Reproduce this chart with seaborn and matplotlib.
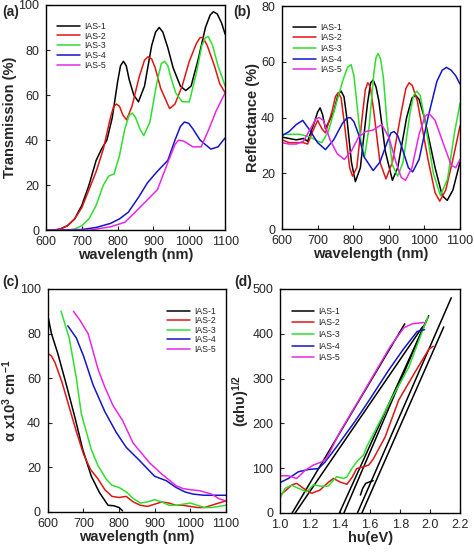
import matplotlib
matplotlib.use("Agg")
import matplotlib.pyplot as plt
import seaborn as sns

# ---------------- data ----------------
samples = ['IAS-1', 'IAS-2', 'IAS-3', 'IAS-4', 'IAS-5']
colors = ['#000000', '#e01515', '#2ee02e', '#1414c8', '#e628e6']

# (a) transmission
trans_wl1 = [600, 620, 640, 660, 680, 700, 720, 740, 755, 770, 785, 800, 808, 816, 824, 832, 845, 858, 875, 895, 906, 916, 926, 940, 955, 975, 990, 1005, 1025, 1045, 1058, 1067, 1078, 1090, 1100]
trans_ias1 = [0, 0, 0.5, 2, 5, 11, 20, 31, 36, 40, 50, 66, 73, 75, 73, 67, 60, 57, 64, 82, 88, 90, 88, 81, 72, 64, 62, 64, 76, 90, 95.5, 97, 96, 92, 87]
trans_wl2 = [600, 620, 640, 660, 680, 700, 720, 740, 760, 780, 789, 797, 805, 815, 825, 840, 860, 875, 885, 895, 905, 920, 945, 960, 980, 1000, 1020, 1030, 1038, 1050, 1070, 1085, 1100]
trans_ias2 = [0, 0, 0.5, 2, 5, 10, 18, 26, 36, 50, 55, 56, 55, 51, 49, 55, 68, 75.5, 77, 76, 72, 63, 54, 56, 64, 75, 83, 85.5, 85.5, 82, 73, 65, 61]
trans_wl3 = [600, 660, 680, 700, 720, 740, 760, 775, 790, 805, 820, 832, 841, 850, 862, 873, 890, 910, 922, 931, 940, 950, 962, 980, 1000, 1020, 1035, 1045, 1053, 1065, 1080, 1100]
trans_ias3 = [0, 0, 0.5, 2, 5, 11, 20, 24, 25, 33, 45, 51, 52, 50, 45, 42, 48, 66, 74, 75, 73, 67, 61, 57, 57, 70, 82, 85.5, 86, 82, 73, 64]
trans_wl4 = [600, 700, 740, 780, 805, 830, 860, 883, 910, 940, 960, 975, 986, 998, 1010, 1030, 1060, 1080, 1100]
trans_ias4 = [0, 0.3, 1.2, 3, 5, 8, 15, 21, 26, 31, 40, 46, 48, 47.5, 45, 40, 36, 37, 41]
trans_wl5 = [600, 720, 780, 820, 845, 880, 911, 940, 960, 970, 985, 1010, 1033, 1055, 1075, 1100]
trans_ias5 = [0, 0, 1.5, 3.5, 7.4, 13, 18, 30, 38, 40, 39.5, 37, 37, 45, 53, 61]

# (b) reflectance
refl_wl1 = [600, 620, 640, 660, 672, 690, 700, 707, 714, 722, 745, 758, 766, 774, 782, 795, 806, 820, 840, 849, 856, 864, 872, 890, 910, 925, 950, 965, 975, 985, 1000, 1030, 1050, 1064, 1080, 1100]
refl_ias1 = [33, 32.5, 32, 32.5, 31.5, 38, 42, 43.5, 41, 36, 42, 48.5, 49.5, 47.5, 40, 24, 17, 22, 45, 52.5, 53.5, 51, 46, 28, 17.5, 22, 40, 47, 48, 46.5, 40, 22, 12, 10.3, 14, 24]
refl_wl2 = [600, 620, 640, 660, 672, 686, 700, 712, 722, 740, 750, 758, 766, 775, 790, 798, 810, 825, 834, 841, 848, 858, 875, 892, 910, 935, 948, 957, 966, 980, 1010, 1030, 1043, 1060, 1080, 1100]
refl_ias2 = [32, 31, 31, 31, 30.5, 35, 39, 36, 34.5, 42, 47.5, 49, 47, 38, 22, 19, 22, 40, 50, 52.5, 51, 42, 24, 18, 24, 42, 50.5, 52.5, 51.5, 46, 25, 13, 10, 14, 25, 37]
refl_wl3 = [600, 650, 680, 700, 712, 730, 750, 770, 784, 794, 802, 812, 822, 832, 845, 858, 864, 870, 877, 885, 895, 910, 925, 940, 960, 970, 978, 988, 1000, 1025, 1045, 1065, 1085, 1100]
refl_ias3 = [34, 34, 33, 31.5, 31, 35, 44, 53, 58, 59, 55, 43, 31, 26, 37, 56, 61.5, 63, 61, 54, 38, 23, 19, 24, 42, 48, 49.5, 48, 40, 20, 12, 18, 35, 45]
refl_wl4 = [600, 620, 640, 658, 675, 700, 722, 745, 770, 782, 792, 802, 815, 830, 856, 875, 895, 906, 915, 925, 935, 955, 967, 985, 1010, 1035, 1050, 1062, 1075, 1088, 1100]
refl_ias4 = [33.5, 35, 37.5, 39, 36, 31, 28.5, 32, 38, 39.8, 40, 38.5, 34, 26, 21, 24, 31, 34.5, 35, 33.5, 30, 22, 20.5, 25, 40, 53, 57, 58, 57, 55, 52]
refl_wl5 = [600, 620, 640, 660, 680, 695, 704, 716, 735, 755, 775, 795, 815, 835, 855, 880, 900, 920, 935, 947, 965, 985, 1002, 1013, 1030, 1055, 1075, 1088, 1100]
refl_ias5 = [31, 30.5, 30.5, 31.5, 36, 39.5, 40, 39, 32, 27, 25, 28, 33, 35, 35.5, 37.5, 33, 24, 18.5, 17.5, 22, 34, 40.5, 41.5, 39, 30, 23, 22, 25]

# (c) absorption coefficient
abs_wl1 = [600, 610, 628, 652, 675, 698, 722, 745, 769, 785, 800, 810]
abs_ias1 = [88, 80, 71, 57, 43, 28, 16, 8.7, 3, 2.8, 2, 0.5]
abs_wl2 = [600, 610, 620, 640, 660, 680, 700, 720, 740, 760, 780, 800, 820, 840, 860, 880, 900, 920, 940, 960, 980, 1000, 1020, 1040, 1060, 1080, 1100]
abs_ias2 = [71, 70, 67, 58, 47, 36, 26, 19, 15, 10, 7, 6.5, 7, 4.5, 3, 2.5, 3.5, 4.5, 4, 3, 3, 2.5, 2, 2, 3, 4, 5]
abs_wl3 = [637, 660, 680, 694, 722, 740, 764, 780, 800, 820, 840, 860, 880, 900, 920, 940, 960, 980, 1000, 1020, 1040, 1060, 1080, 1100]
abs_ias3 = [90, 78, 60, 44, 28, 21, 14.7, 12, 11, 9, 6, 4, 4.5, 5.5, 4.5, 3, 3, 3.5, 4, 3, 2, 2, 2.5, 3]
abs_wl4 = [656, 680, 700, 727, 760, 792, 820, 858, 900, 933, 960, 985, 1008, 1040, 1070, 1100]
abs_ias4 = [83.5, 78, 70, 57, 45, 35.7, 29, 23, 16, 14, 11, 9, 8, 7.5, 7.5, 7.5]
abs_wl5 = [672, 690, 713, 741, 760, 783, 810, 839, 865, 886, 920, 961, 980, 1000, 1027, 1060, 1080, 1100]
abs_ias5 = [90, 86, 80, 64, 56, 47.7, 41, 31, 26, 22, 17, 11.7, 10.5, 10, 9.5, 8, 6, 5]

# (d) Tauc plot
tauc_e2 = [1.0, 1.04, 1.08, 1.11, 1.155, 1.21, 1.265, 1.32, 1.355, 1.40, 1.445, 1.48, 1.51, 1.555, 1.59, 1.62, 1.70, 1.79, 1.90, 1.99, 2.02]
tauc_ias2 = [40, 51, 63, 66, 55, 44, 51, 68, 77, 69, 64, 80, 99, 103, 107, 120, 170, 252, 315, 365, 372]
tauc_e3 = [1.0, 1.033, 1.077, 1.122, 1.177, 1.222, 1.266, 1.32, 1.377, 1.422, 1.444, 1.477, 1.52, 1.555, 1.577, 1.65, 1.75, 1.857, 1.93, 1.985]
tauc_ias3 = [33, 55, 62, 55, 47, 63, 60, 60, 81, 77, 80, 99, 118, 129, 148, 195, 260, 325, 390, 438]
tauc_e4 = [1.0, 1.055, 1.122, 1.189, 1.255, 1.30, 1.377, 1.5, 1.6, 1.722, 1.82, 1.913, 1.962]
tauc_ias4 = [68, 77, 92, 97, 99, 114, 148, 205, 255, 318, 365, 405, 409]
tauc_e5 = [1.0, 1.055, 1.11, 1.166, 1.222, 1.277, 1.31, 1.4, 1.5, 1.6, 1.735, 1.824, 1.88, 1.957]
tauc_ias5 = [83, 83, 77, 95, 107, 114, 122, 182, 238, 295, 372, 413, 422, 425]
tauc_hook_e = [1.535, 1.55, 1.57, 1.60, 1.62]
tauc_hook = [40, 55, 66, 70, 72]
fit_e = [[1.08, 1.83], [1.10, 1.95], [1.395, 1.99], [1.425, 1.975], [1.515, 2.14], [1.545, 2.09]]
fit_val = [[0, 422], [0, 416], [0, 440], [0, 430], [0, 480], [0, 415]]

# ---------------- style ----------------
sns.set_style('ticks')
plt.rcParams['font.family'] = ['Liberation Sans', 'DejaVu Sans']
plt.rcParams['mathtext.fontset'] = 'custom'
plt.rcParams['mathtext.rm'] = 'Liberation Sans'
plt.rcParams['mathtext.bf'] = 'Liberation Sans:bold'
plt.rcParams['mathtext.default'] = 'bf'

fig = plt.figure(figsize=(4.74, 5.52), dpi=100)
ax_a = fig.add_axes([0.097, 0.583, 0.378, 0.408])
ax_b = fig.add_axes([0.595, 0.585, 0.3755, 0.404])
ax_c = fig.add_axes([0.101, 0.0725, 0.3755, 0.404])
ax_d = fig.add_axes([0.591, 0.0707, 0.38, 0.406])

LW = 1.1


def draw(ax, xs, ys, c, lab):
    sns.lineplot(x=xs, y=ys, color=c, label=lab, ax=ax, estimator=None,
                 sort=False, lw=LW)


def finish(ax, xlim, ylim, xt, yt, xlab, ylab):
    ax.set_xlim(*xlim)
    ax.set_ylim(*ylim)
    ax.set_xticks(xt)
    ax.set_yticks(yt)
    ax.tick_params(direction='in', length=3, width=0.8, labelsize=9)
    ax.tick_params(axis='x', pad=4.5)
    ax.tick_params(axis='y', pad=5)
    for s in ax.spines.values():
        s.set_linewidth(1.0)
        s.set_color('black')
    ax.set_xlabel(xlab, fontsize=10.5, fontweight='bold', labelpad=0)
    ax.set_ylabel(ylab, fontsize=10.5, fontweight='bold', labelpad=1)


def leg(ax, loc, anchor, spacing):
    ax.legend(loc=loc, bbox_to_anchor=anchor, frameon=False, fontsize=6.3,
              handlelength=2.6, labelspacing=spacing, handletextpad=0.5)


# (a)
for xs, ys, c, lab in zip([trans_wl1, trans_wl2, trans_wl3, trans_wl4, trans_wl5],
                          [trans_ias1, trans_ias2, trans_ias3, trans_ias4, trans_ias5],
                          colors, samples):
    draw(ax_a, xs, ys, c, lab)
finish(ax_a, (600, 1100), (0, 100), range(600, 1101, 100), range(0, 101, 20),
       'wavelength (nm)', 'Transmission (%)')
leg(ax_a, 'upper left', (0.02, 0.96), 0.08)

# (b)
for xs, ys, c, lab in zip([refl_wl1, refl_wl2, refl_wl3, refl_wl4, refl_wl5],
                          [refl_ias1, refl_ias2, refl_ias3, refl_ias4, refl_ias5],
                          colors, samples):
    draw(ax_b, xs, ys, c, lab)
finish(ax_b, (600, 1100), (0, 80), range(600, 1101, 100), range(0, 81, 20),
       'wavelength (nm)', 'Reflectance (%)')
leg(ax_b, 'upper left', (0.02, 0.96), 0.18)

# (c)
for xs, ys, c, lab in zip([abs_wl1, abs_wl2, abs_wl3, abs_wl4, abs_wl5],
                          [abs_ias1, abs_ias2, abs_ias3, abs_ias4, abs_ias5],
                          colors, samples):
    draw(ax_c, xs, ys, c, lab)
finish(ax_c, (600, 1100), (0, 100), range(600, 1101, 100), range(0, 101, 20),
       'wavelength (nm)', r'α x10$^{3}$ cm$^{-1}$')
leg(ax_c, 'upper right', (0.99, 0.955), 0.05)

# (d)
for i, (xs, ys) in enumerate(zip(fit_e, fit_val)):
    draw(ax_d, xs, ys, 'black', samples[0] if i == 0 else '_nolegend_')
draw(ax_d, tauc_hook_e, tauc_hook, 'black', '_nolegend_')
for xs, ys, c, lab in zip([tauc_e2, tauc_e3, tauc_e4, tauc_e5],
                          [tauc_ias2, tauc_ias3, tauc_ias4, tauc_ias5],
                          colors[1:], samples[1:]):
    draw(ax_d, xs, ys, c, lab)
finish(ax_d, (1.0, 2.2), (0, 500), [1.0, 1.2, 1.4, 1.6, 1.8, 2.0, 2.2], range(0, 501, 100),
       'hυ(eV)', r'(αhυ)$^{1/2}$')
ax_d.set_xticklabels(['1.0', '1.2', '1.4', '1.6', '1.8', '2.0', '2.2'])
leg(ax_d, 'upper left', (0.02, 0.955), 0.3)

# panel letters
for txt, x, y in [('(a)', 0.004, 0.978), ('(b)', 0.492, 0.978),
                  ('(c)', 0.004, 0.49), ('(d)', 0.495, 0.49)]:
    fig.text(x, y, txt, fontsize=10, fontweight='bold', va='center', ha='left')

fig.savefig('out.png', dpi=100)
